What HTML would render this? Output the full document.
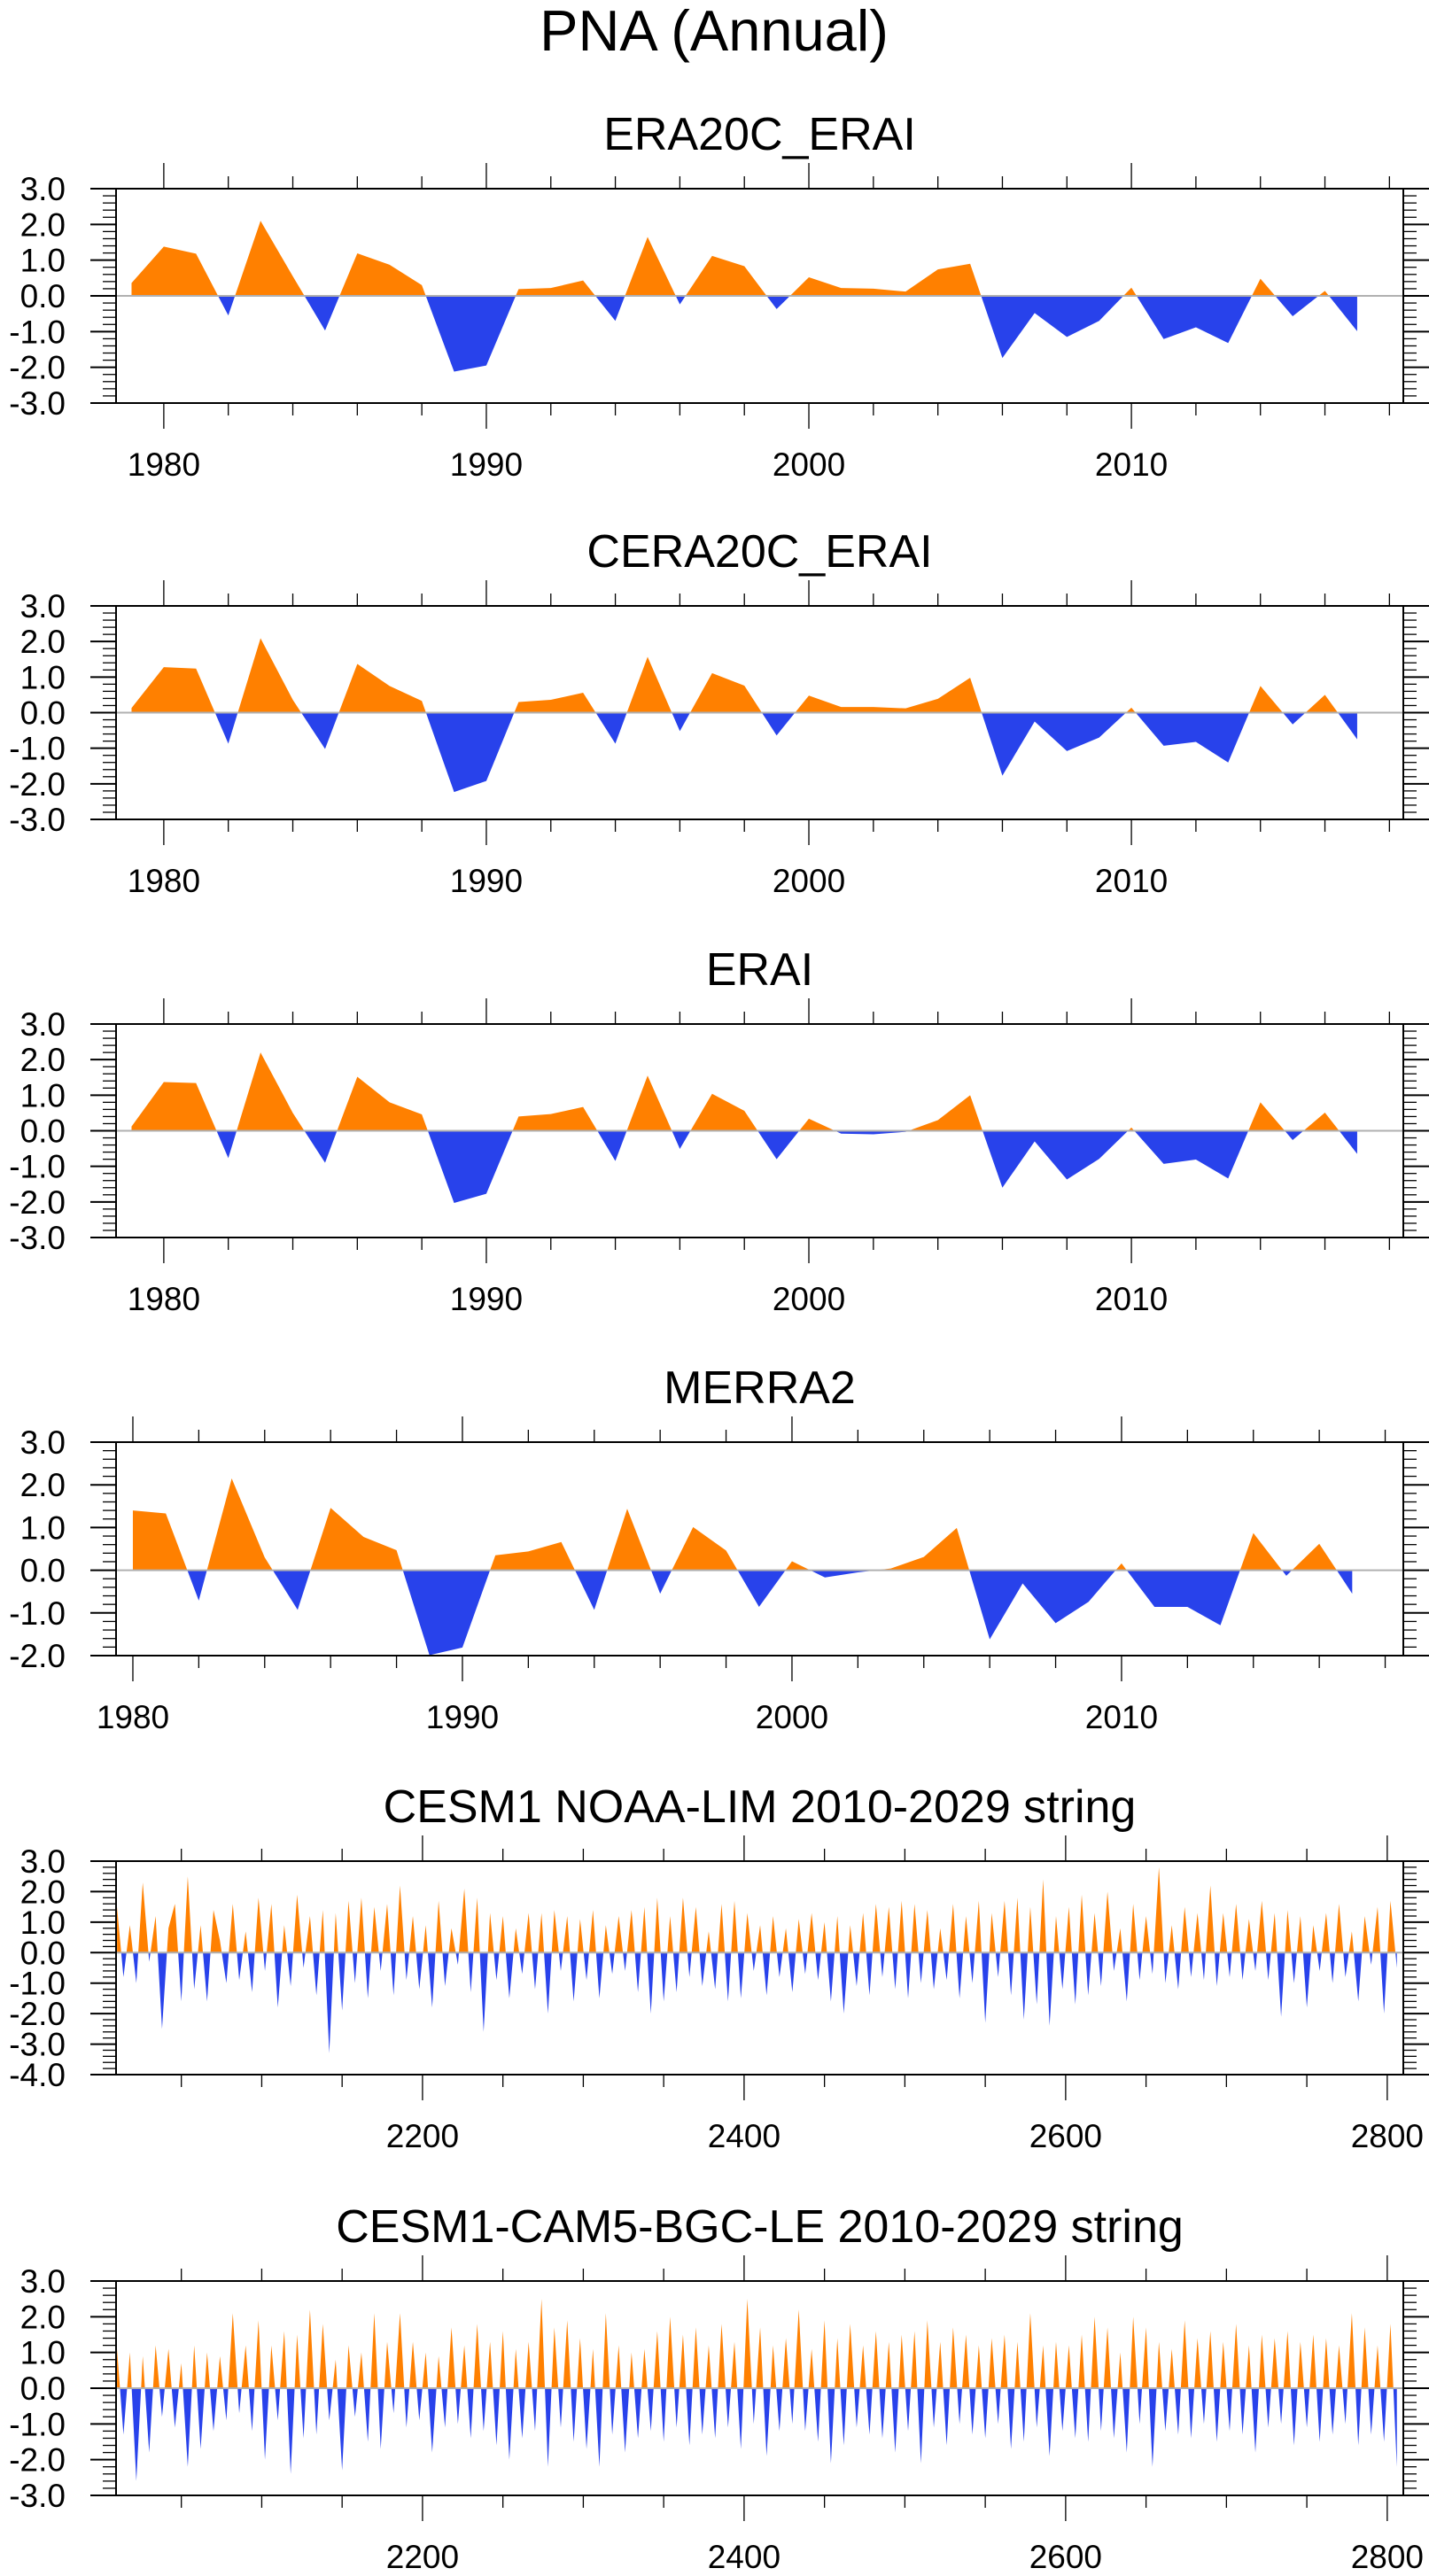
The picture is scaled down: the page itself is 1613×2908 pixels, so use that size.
<!DOCTYPE html>
<html><head><meta charset="utf-8">
<style>
html,body{margin:0;padding:0;background:#fff;}
svg{display:block;}
text{font-family:"Liberation Sans",Arial,sans-serif;fill:#000;}
</style></head>
<body>
<svg id="chart" width="1613" height="2908" viewBox="0 0 1613 2908" xmlns="http://www.w3.org/2000/svg">
<text x="806" y="57" font-size="65" text-anchor="middle">PNA (Annual)</text>
</svg>
<script>
// ---- data ----
const yearsA = [1979,1980,1981,1982,1983,1984,1985,1986,1987,1988,1989,1990,1991,1992,1993,1994,1995,1996,1997,1998,1999,2000,2001,2002,2003,2004,2005,2006,2007,2008,2009,2010,2011,2012,2013,2014,2015,2016,2017];
const era20c = [0.36,1.38,1.18,-0.55,2.1,0.55,-0.97,1.19,0.87,0.3,-2.12,-1.95,0.19,0.22,0.43,-0.7,1.65,-0.24,1.12,0.83,-0.37,0.52,0.22,0.2,0.12,0.74,0.9,-1.74,-0.48,-1.15,-0.7,0.23,-1.21,-0.88,-1.32,0.48,-0.57,0.14,-0.99];
const cera20c = [0.13,1.28,1.24,-0.87,2.09,0.36,-1.02,1.37,0.75,0.33,-2.23,-1.92,0.3,0.36,0.56,-0.87,1.57,-0.52,1.11,0.76,-0.64,0.48,0.16,0.16,0.12,0.39,0.98,-1.77,-0.25,-1.08,-0.7,0.14,-0.93,-0.82,-1.4,0.75,-0.33,0.5,-0.75];
const erai = [0.12,1.37,1.34,-0.77,2.2,0.5,-0.9,1.52,0.8,0.46,-2.03,-1.77,0.4,0.47,0.67,-0.85,1.55,-0.51,1.04,0.56,-0.8,0.34,-0.08,-0.1,-0.03,0.3,1.0,-1.6,-0.3,-1.37,-0.79,0.09,-0.93,-0.81,-1.34,0.8,-0.26,0.51,-0.65];
const yearsM = [1980,1981,1982,1983,1984,1985,1986,1987,1988,1989,1990,1991,1992,1993,1994,1995,1996,1997,1998,1999,2000,2001,2002,2003,2004,2005,2006,2007,2008,2009,2010,2011,2012,2013,2014,2015,2016,2017];
const merra2 = [1.4,1.33,-0.71,2.15,0.3,-0.93,1.46,0.78,0.47,-1.99,-1.81,0.35,0.44,0.66,-0.93,1.44,-0.55,1.01,0.46,-0.86,0.21,-0.17,-0.05,0.04,0.31,0.99,-1.62,-0.31,-1.24,-0.74,0.16,-0.86,-0.86,-1.29,0.87,-0.13,0.62,-0.55];
const stringStart = 2010, stringStep = 4;
const noaaLim = [1.5,-0.8,0.9,-1.0,2.3,-0.3,1.2,-2.5,0.8,1.6,
-1.6,2.5,-1.2,0.9,-1.6,1.4,0.4,-1.0,1.6,-0.9,
0.7,-1.3,1.8,-0.6,1.6,-1.8,0.9,-1.1,1.9,-0.5,
1.2,-1.4,1.4,-3.3,1.3,-1.9,1.7,-1.0,1.8,-1.5,
1.5,-0.6,1.6,-1.4,2.2,-0.9,1.2,-1.2,0.9,-1.8,
1.7,-1.1,0.8,-0.4,2.1,-1.3,1.8,-2.6,1.3,-0.9,
1.2,-1.5,0.8,-0.7,1.3,-1.2,1.3,-2.0,1.4,-0.6,
1.2,-1.6,1.1,-0.9,1.4,-1.5,0.9,-0.7,1.2,-0.6,
1.4,-1.3,1.5,-2.0,1.8,-1.6,1.2,-1.3,1.8,-0.8,
1.5,-1.1,0.7,-1.2,1.6,-1.6,1.7,-1.5,1.3,-0.6,
0.9,-1.4,1.2,-0.8,0.8,-1.3,1.1,-0.7,1.3,-0.9,
1.0,-1.6,1.2,-2.0,0.9,-1.1,1.3,-1.4,1.6,-0.8,
1.5,-1.2,1.7,-1.5,1.6,-1.0,1.4,-1.2,0.8,-0.9,
1.6,-1.5,1.2,-1.0,1.7,-2.3,1.3,-0.8,1.7,-1.4,
1.8,-2.2,1.5,-1.7,2.4,-2.4,1.2,-1.2,1.5,-1.7,
1.9,-1.4,1.3,-1.1,2.0,-0.6,0.8,-1.6,1.6,-0.9,
1.2,-0.7,2.8,-1.0,0.9,-1.2,1.5,-0.8,1.3,-0.9,
2.2,-1.1,1.3,-0.8,1.6,-0.9,1.1,-0.6,1.7,-0.9,
1.3,-2.1,1.4,-1.0,1.2,-1.8,0.9,-0.6,1.3,-1.0,
1.6,-0.8,0.7,-1.6,1.2,-0.4,1.5,-2.0,1.7,-0.5];
const bgcLe = [1.1,-1.3,1.0,-2.6,0.9,-1.8,1.2,-0.8,1.1,-1.1,
0.7,-2.2,1.2,-1.7,1.0,-1.2,0.9,-0.9,2.1,-0.7,
1.2,-1.2,1.9,-2.0,1.2,-0.9,1.6,-2.4,1.5,-1.4,
2.2,-1.3,1.8,-0.9,0.8,-2.3,1.2,-0.8,1.0,-1.5,
2.1,-1.7,1.3,-0.7,2.1,-1.1,1.3,-0.9,1.0,-1.8,
0.9,-1.1,1.7,-1.0,1.2,-1.4,1.8,-1.2,1.3,-1.6,
1.6,-2.0,1.1,-1.4,1.3,-1.2,2.5,-2.2,1.7,-1.1,
1.9,-1.5,1.4,-1.7,1.1,-2.2,2.1,-1.3,1.2,-1.8,
1.0,-1.4,1.1,-1.2,1.6,-1.5,2.0,-1.1,1.5,-1.6,
1.7,-1.3,1.2,-1.4,1.8,-1.1,1.3,-1.7,2.5,-1.0,
1.7,-1.9,1.2,-1.2,1.4,-1.0,2.2,-1.2,1.1,-1.5,
1.9,-2.1,1.4,-1.6,1.8,-1.1,1.2,-1.3,1.6,-1.4,
1.3,-1.8,1.5,-1.2,1.6,-2.1,1.9,-1.1,1.3,-1.6,
1.7,-1.0,1.5,-1.3,1.2,-1.4,1.4,-1.0,1.5,-1.7,
1.3,-1.5,2.1,-1.1,1.2,-1.9,1.3,-1.2,1.2,-1.4,
1.5,-1.5,2.0,-1.2,1.7,-1.4,1.0,-1.8,2.0,-1.0,
1.7,-2.2,1.3,-1.2,1.1,-1.3,1.9,-1.4,1.4,-1.0,
1.6,-1.5,1.3,-1.2,1.8,-1.3,1.2,-1.8,1.5,-1.1,
1.4,-1.0,1.6,-1.6,1.3,-1.1,1.5,-1.5,1.4,-1.3,
1.2,-1.0,2.1,-1.6,1.7,-1.3,1.2,-1.5,1.8,-2.2];
const xTicksAnnual = [1980,1990,2000,2010];
const xTicksString = [2200,2400,2600,2800];
const titles = ["ERA20C_ERAI","CERA20C_ERAI","ERAI","MERRA2","CESM1 NOAA-LIM 2010-2029 string","CESM1-CAM5-BGC-LE 2010-2029 string"];

const stringYears = noaaLim.map((v,i)=>stringStart+i*stringStep);
const stringYears2 = bgcLe.map((v,i)=>stringStart+i*stringStep);

const NS="http://www.w3.org/2000/svg";
const svg=document.getElementById('chart');
function mk(tag,attrs,parent){const e=document.createElementNS(NS,tag);for(const k in attrs)e.setAttribute(k,attrs[k]);(parent||svg).appendChild(e);return e;}

const panels=[
 {key:'era20c',title:titles[0],xs:yearsA,ys:era20c,y0:213,y1:455,xmin:1978.52,xmax:2018.43,ymin:-3,ymax:3,maj:xTicksAnnual,minStep:2,minStart:1980},
 {key:'cera20c',title:titles[1],xs:yearsA,ys:cera20c,y0:684,y1:925,xmin:1978.52,xmax:2018.43,ymin:-3,ymax:3,maj:xTicksAnnual,minStep:2,minStart:1980},
 {key:'erai',title:titles[2],xs:yearsA,ys:erai,y0:1156,y1:1397,xmin:1978.52,xmax:2018.43,ymin:-3,ymax:3,maj:xTicksAnnual,minStep:2,minStart:1980},
 {key:'merra2',title:titles[3],xs:yearsM,ys:merra2,y0:1628,y1:1869,xmin:1979.49,xmax:2018.55,ymin:-2,ymax:3,maj:xTicksAnnual,minStep:2,minStart:1980},
 {key:'noaa-lim',title:titles[4],xs:stringYears,ys:noaaLim,y0:2101,y1:2342,xmin:2009.4,xmax:2810,ymin:-4,ymax:3,maj:xTicksString,minStep:50,minStart:2050},
 {key:'bgc-le',title:titles[5],xs:stringYears2,ys:bgcLe,y0:2575,y1:2817,xmin:2009.4,xmax:2810,ymin:-3,ymax:3,maj:xTicksString,minStep:50,minStart:2050}
];
const X0=131,X1=1584;

panels.forEach((p,pi)=>{
  const g=mk('g',{});
  
  
  const sx=v=>X0+(v-p.xmin)/(p.xmax-p.xmin)*(X1-X0);
  const sy=v=>p.y1-(v-p.ymin)/(p.ymax-p.ymin)*(p.y1-p.y0);
  const zy=sy(0);
  const t=mk('text',{x:(X0+X1)/2,y:p.y0-44,'font-size':52,'text-anchor':'middle'},g);
  t.textContent=p.title;
  
  
  const defs=mk('defs',{},g);
  const cu=mk('clipPath',{id:'cu'+pi},defs);mk('rect',{x:X0,y:p.y0,width:X1-X0,height:zy-p.y0},cu);
  const cd=mk('clipPath',{id:'cd'+pi},defs);mk('rect',{x:X0,y:zy,width:X1-X0,height:p.y1-zy},cd);
  let d='M'+sx(p.xs[0]).toFixed(2)+','+zy.toFixed(2);
  p.xs.forEach((x,i)=>{d+=' L'+sx(x).toFixed(2)+','+sy(p.ys[i]).toFixed(2);});
  d+=' L'+sx(p.xs[p.xs.length-1]).toFixed(2)+','+zy.toFixed(2)+' Z';
  const up=mk('path',{d:d,fill:'#ff8000','clip-path':'url(#cu'+pi+')'},g);
  
  
  const dn=mk('path',{d:d,fill:'#2842eb','clip-path':'url(#cd'+pi+')'},g);
  
  
  const zl=mk('line',{x1:X0,x2:X1,y1:zy,y2:zy,stroke:'#b0b0b0','stroke-width':2},g);
  
  
  const box=mk('rect',{x:X0,y:p.y0,width:X1-X0,height:p.y1-p.y0,fill:'none',stroke:'#000','stroke-width':2},g);
  
  
  for(let k=Math.round(p.ymin*5);k<=Math.round(p.ymax*5);k++){
    const v=k/5,y=sy(v),major=(k%5===0);
    const L=major?29:15;
    mk('line',{x1:X0-L,x2:X0,y1:y,y2:y,stroke:'#000','stroke-width':major?2:1.3},g);
    mk('line',{x1:X1,x2:X1+L,y1:y,y2:y,stroke:'#000','stroke-width':major?2:1.3},g);
    if(major){
      const tl=mk('text',{x:74,y:y+13,'font-size':37,'text-anchor':'end'},g);
      tl.textContent=v.toFixed(1);
      
      
    }
  }
  for(let v=p.minStart;v<=p.xmax;v+=p.minStep){
    if(v<p.xmin)continue;
    const x=sx(v),major=p.maj.indexOf(v)>=0;
    const L=major?29:14;
    mk('line',{x1:x,x2:x,y1:p.y0-L,y2:p.y0,stroke:'#000','stroke-width':1.3},g);
    mk('line',{x1:x,x2:x,y1:p.y1,y2:p.y1+L,stroke:'#000','stroke-width':1.3},g);
  }
  p.maj.forEach(v=>{
    const tl=mk('text',{x:sx(v),y:p.y1+82,'font-size':37,'text-anchor':'middle'},g);
    tl.textContent=String(v);
    
    
  });
});
</script>
</body></html>
